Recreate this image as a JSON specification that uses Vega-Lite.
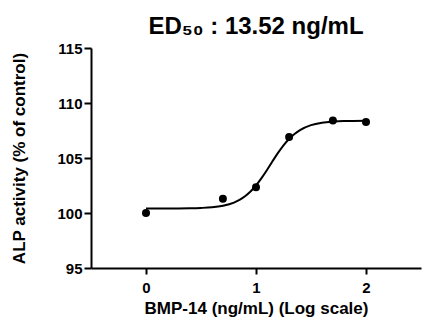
{
  "$schema": "https://vega.github.io/schema/vega-lite/v6.json",
  "width": 330,
  "height": 220,
  "autosize": {"type": "none"},
  "padding": {"left": 91, "top": 48, "right": 19, "bottom": 60},
  "background": "white",
  "config": {
    "view": {"stroke": null},
    "font": "Liberation Sans",
    "axis": {
      "domainColor": "black", "domainWidth": 2, "tickColor": "black", "tickWidth": 2,
      "labelFont": "Liberation Sans", "labelFontWeight": "bold", "labelFontSize": 15, "labelColor": "black",
      "titleFont": "Liberation Sans", "titleFontWeight": "bold", "titleFontSize": 17, "titleColor": "black",
      "grid": false
    }
  },
  "title": {
    "text": "ED₅₀ : 13.52 ng/mL",
    "font": "Liberation Sans", "fontSize": 24, "fontWeight": "bold", "color": "black",
    "anchor": "middle", "offset": 2
  },
  "datasets": {
    "points": [
      {"x": 0, "y": 100.0},
      {"x": 0.699, "y": 101.3},
      {"x": 1.0, "y": 102.35},
      {"x": 1.301, "y": 106.9},
      {"x": 1.699, "y": 108.4},
      {"x": 2.0, "y": 108.28}
    ],
    "curve": [
      {"x": 0.0, "y": 100.4},
      {"x": 0.2, "y": 100.41},
      {"x": 0.4, "y": 100.43},
      {"x": 0.5, "y": 100.46},
      {"x": 0.6, "y": 100.52},
      {"x": 0.7, "y": 100.66},
      {"x": 0.8, "y": 100.95},
      {"x": 0.85, "y": 101.19},
      {"x": 0.9, "y": 101.52},
      {"x": 0.95, "y": 101.95},
      {"x": 1.0, "y": 102.5},
      {"x": 1.05, "y": 103.17},
      {"x": 1.1, "y": 103.91},
      {"x": 1.15, "y": 104.7},
      {"x": 1.2, "y": 105.46},
      {"x": 1.25, "y": 106.15},
      {"x": 1.3, "y": 106.73},
      {"x": 1.35, "y": 107.19},
      {"x": 1.4, "y": 107.54},
      {"x": 1.5, "y": 107.99},
      {"x": 1.6, "y": 108.21},
      {"x": 1.7, "y": 108.31},
      {"x": 1.8, "y": 108.36},
      {"x": 2.0, "y": 108.39}
    ]
  },
  "encoding": {
    "x": {
      "field": "x", "type": "quantitative",
      "scale": {"domain": [-0.5, 2.5], "nice": false, "zero": false},
      "axis": {"values": [0, 1, 2], "title": "BMP-14 (ng/mL) (Log scale)", "tickSize": 6, "labelPadding": 6, "titlePadding": 5, "format": "d"}
    },
    "y": {
      "field": "y", "type": "quantitative",
      "scale": {"domain": [95, 115], "nice": false, "zero": false},
      "axis": {"values": [95, 100, 105, 110, 115], "title": "ALP activity (% of control)", "tickSize": 7, "labelPadding": 2, "titlePadding": 28, "format": "d"}
    }
  },
  "layer": [
    {
      "data": {"name": "curve"},
      "mark": {"type": "line", "color": "black", "strokeWidth": 2, "interpolate": "monotone"}
    },
    {
      "data": {"name": "points"},
      "mark": {"type": "point", "filled": true, "color": "black", "opacity": 1, "size": 64, "shape": "circle"}
    }
  ]
}
